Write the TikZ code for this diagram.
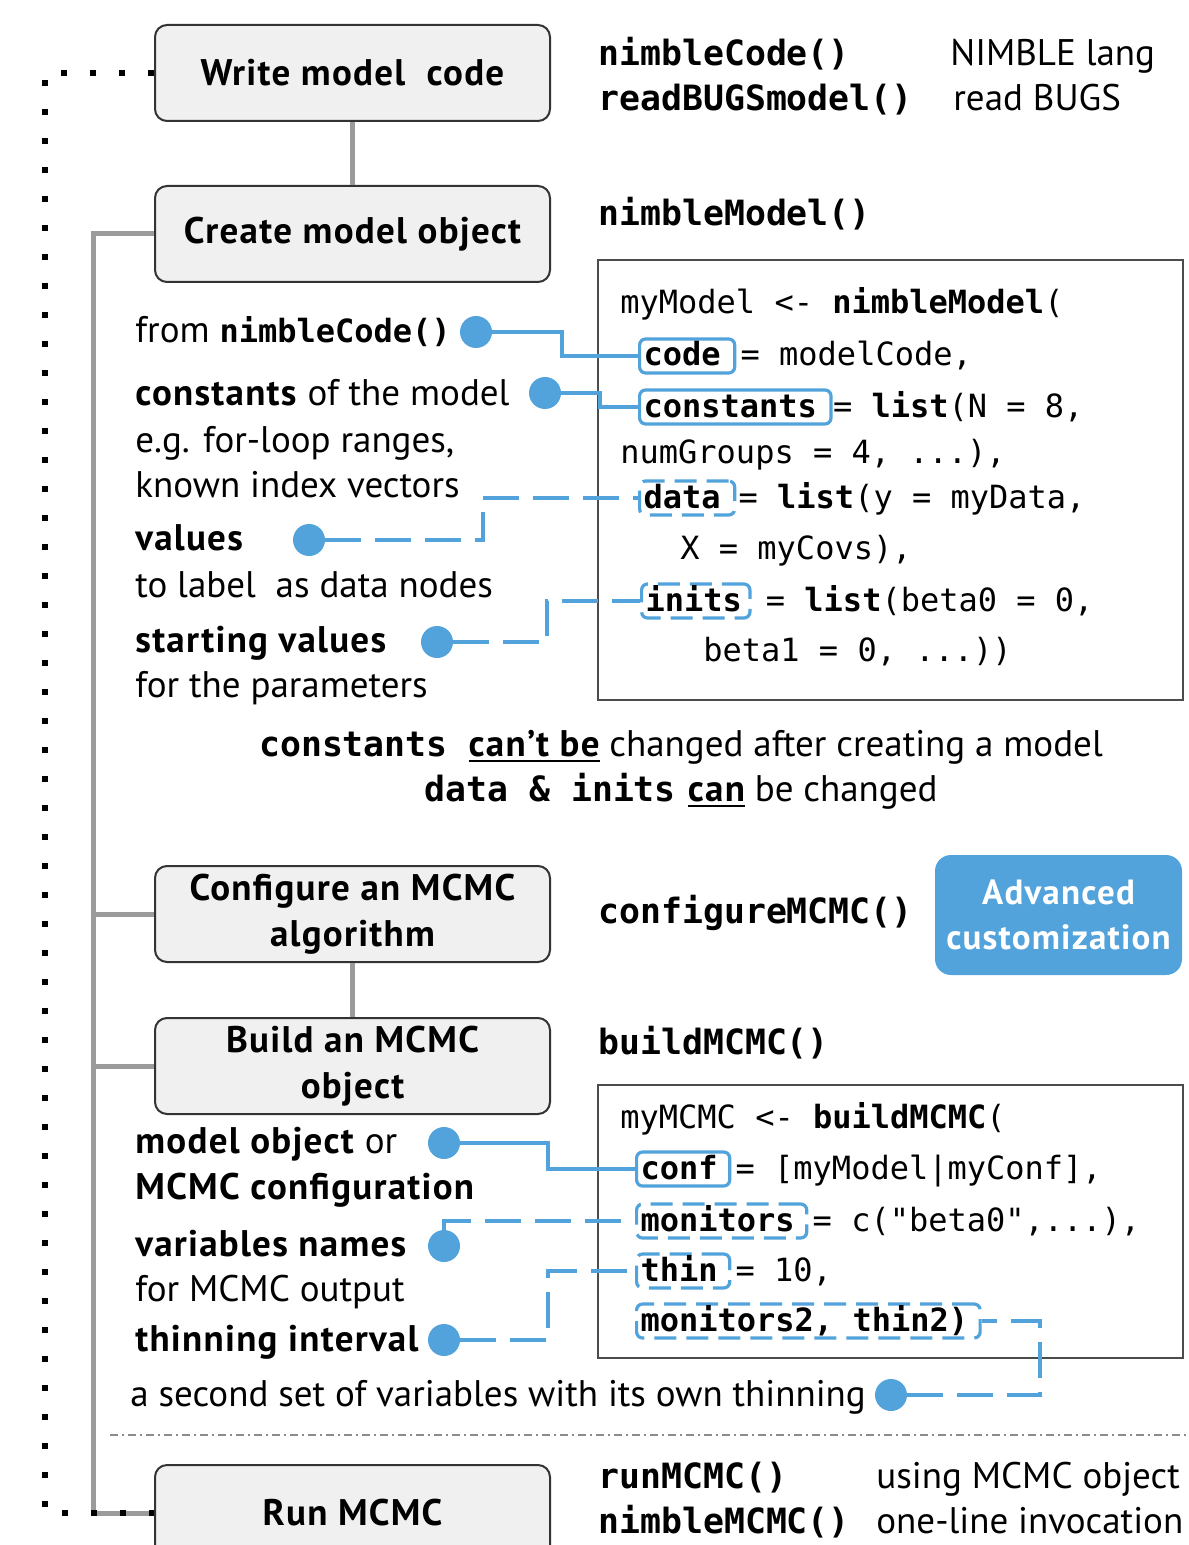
\documentclass[tikz,border=0pt]{standalone}
\usepackage{fontspec}
\setmainfont{PT Sans}[BoldFeatures={LetterSpace=3.4}]
\setmonofont{DejaVu Sans Mono}

\definecolor{nblue}{HTML}{52A3DB}
\definecolor{trunkgray}{HTML}{9B9B9B}
\definecolor{boxfill}{HTML}{F0F0F0}

% function names set in bold mono
\newcommand{\rcode}[1]{{\ttfamily\bfseries\fontsize{17.4}{21}\selectfont #1}}
\newcommand{\icode}[1]{{\ttfamily\bfseries\fontsize{16}{21}\selectfont #1}}
% thick underline
\newcommand{\ulbox}[1]{\setbox0=\hbox{#1}\rlap{\rule[-3.2pt]{\wd0}{1.4pt}}\box0\relax}

\begin{document}
\begin{tikzpicture}[x=0.5pt, y=-0.5pt,
    every node/.style={font=\fontsize{18.5}{23}\selectfont},
    stage/.style={draw=black!80, line width=1pt, fill=boxfill, rounded corners=6pt,
        minimum width=197.5pt, minimum height=48pt, align=center,
        font=\bfseries\fontsize{18.5}{23}\selectfont},
    trunk/.style={draw=trunkgray, line width=2.5pt},
    loopback/.style={draw=black, line width=3pt, dash pattern=on 3pt off 11.5pt},
    desc/.style={anchor=base west, inner sep=0pt},
    hdr/.style={anchor=base west, inner sep=0pt,
        font=\ttfamily\bfseries\fontsize{17.4}{21}\selectfont},
    codebox/.style={draw=black!70, line width=0.9pt, minimum width=292.5pt},
    codeline/.style={anchor=base west, inner sep=0pt,
        font=\ttfamily\fontsize{16}{20}\selectfont},
    kw/.style={draw=nblue, line width=1.6pt, rounded corners=3pt, anchor=base west,
        inner xsep=2pt, inner ysep=0pt, text height=13.5pt, text depth=3.5pt,
        font=\ttfamily\bfseries\fontsize{16}{20}\selectfont},
    kwd/.style={kw, dash pattern=on 11pt off 5pt},
    dot/.style={circle, fill=nblue, inner sep=0pt, minimum size=16pt},
    link/.style={draw=nblue, line width=1.7pt},
    linkd/.style={link, dash pattern=on 18pt off 7pt},
    adv/.style={fill=nblue, text=white, rounded corners=8pt, minimum width=123.5pt,
        minimum height=60pt, align=center, font=\bfseries\fontsize{17.5}{22.5}\selectfont},
    note/.style={anchor=base, inner sep=0pt},
    sepline/.style={draw=black!45, line width=0.7pt, dash pattern=on 4pt off 2pt on 1pt off 2pt}]

    \path[use as bounding box] (0,0) rectangle (1188,1545);
    \clip (0,0) rectangle (1188,1545);

    % stages
    \node[stage] (write) at (352.5,73) {Write model~ code};
    \node[stage] (create) at (352.5,234) {Create model object};
    \node[stage] (config) at (352.5,914) {Configure an MCMC\\algorithm};
    \node[stage] (build) at (352.5,1066) {Build an MCMC\\object};
    \node[stage] (run) at (352.5,1513) {Run MCMC};

    \coordinate (spine) at (93,0);
    \draw[trunk] (write) -- (create);
    \draw[trunk] (config) -- (build);
    \draw[trunk] (create.west) -| (spine |- run.west) -- (run.west);
    \draw[trunk] (config.west) -- (config.west -| spine);
    \draw[trunk] (build.west) -- (build.west -| spine);
    \draw[loopback] (write.west) -| (45,1513) -- (run.west);

    % function names
    \node[hdr] (hcode) at (598,66) {nimbleCode()};
    \node[desc] (hlang) at (950,66) {NIMBLE lang};
    \node[hdr] (hbugs) at (598,111) {readBUGSmodel()};
    \node[desc] (hread) at (953,111) {read BUGS};
    \node[hdr] (hmodel) at (598,226) {nimbleModel()};
    \node[hdr] (hconf) at (598,923) {configureMCMC()};
    \node[adv] (adv) at (1058.5,915) {Advanced\\customization};
    \node[hdr] (hbuild) at (598,1054) {buildMCMC()};
    \node[hdr] (hrun) at (598,1488) {runMCMC()};
    \node[desc] (hrunt) at (876,1488) {using MCMC object};
    \node[hdr] (hnmc) at (598,1533) {nimbleMCMC()};
    \node[desc] (hnmct) at (876,1533) {one-line invocation};

    % nimbleModel call
    \node[codebox, minimum height=220pt] (mbox) at (890.5,480) {};
    \node[codeline] (m1) at (620,314) {myModel <- \textbf{nimbleModel}(};
    \node[kw] (kcode) at (638,366) {code\kern5pt};
    \node[codeline] (m2) at (kcode.base east) {\kern2pt= modelCode,};
    \node[kw] (kconst) at (638,417) {constants\kern5pt};
    \node[codeline] (m3) at (kconst.base east) {\kern0pt= \textbf{list}(N = 8,};
    \node[codeline] (m4) at (620,463) {numGroups = 4, ...),};
    \node[kwd] (kdata) at (638,508) {data\kern5pt};
    \node[codeline] (m5) at (kdata.base east) {\kern1pt= \textbf{list}(y = myData,};
    \node[codeline] (m6) at (680,559) {X = myCovs),};
    \node[kwd] (kinits) at (640,611) {inits\kern2pt};
    \node[codeline] (m7) at (kinits.base east) {\kern7pt= \textbf{list}(beta0 = 0,};
    \node[codeline] (m8) at (703,661) {beta1 = 0, ...))};

    \node[desc] (t1) at (135,343) {from \icode{nimbleCode()}};
    \node[desc] (t2) at (135,406) {\textbf{constants} of the model};
    \node[desc] (t3) at (135,452) {e.g. for-loop ranges,};
    \node[desc] (t4) at (135,497) {known index vectors};
    \node[desc] (t5) at (135,550) {\textbf{values}};
    \node[desc] (t6) at (135,597) {to label~ as data nodes};
    \node[desc] (t7) at (135,652) {\textbf{starting values}};
    \node[desc] (t8) at (135,697) {for the parameters};

    \node[dot] (dcode) at (476,332) {};
    \node[dot] (dconst) at (545,393) {};
    \node[dot] (dvals) at (309,540) {};
    \node[dot] (dinits) at (437,642) {};
    \draw[link] (dcode) -- ++(86,0) |- (kcode);
    \draw[link] (dconst) -- ++(55,0) |- (kconst);
    \draw[linkd] (dvals) -- ++(174,0) |- (kdata);
    \draw[linkd] (dinits) -- ++(110,0) |- (kinits);

    \node[note] (n1) at (681,756) {\rcode{constants }\ulbox{\bfseries can’t be} changed after creating a model};
    \node[note] (n2) at (681,801) {\rcode{data \& inits}\kern6pt\ulbox{\bfseries can} be changed};

    % buildMCMC call
    \node[codebox, minimum height=136.5pt] (bbox) at (890.5,1221.5) {};
    \node[codeline] (b1) at (620,1128) {myMCMC <- \textbf{buildMCMC}(};
    \node[kw] (kconf) at (635,1179) {conf\kern4pt};
    \node[codeline] (b2) at (kconf.base east) {\kern2pt= [myModel|myConf],};
    \node[kwd] (kmon) at (635,1231) {monitors\kern4pt};
    \node[codeline] (b3) at (kmon.base east) {\kern2pt= c("beta0",...),};
    \node[kwd] (kthin) at (635,1281) {thin\kern4pt};
    \node[codeline] (b4) at (kthin.base east) {\kern2pt= 10,};
    \node[kwd] (kmon2) at (635,1331) {monitors2, thin2)\kern4pt};

    \node[desc] (s1) at (135,1153) {\textbf{model object} or};
    \node[desc] (s2) at (135,1199) {\textbf{MCMC configuration}};
    \node[desc] (s3) at (135,1256) {\textbf{variables names}};
    \node[desc] (s4) at (135,1301) {for MCMC output};
    \node[desc] (s5) at (135,1351) {\textbf{thinning interval}};
    \node[desc] (s6) at (130,1406) {a second set of variables with its own thinning};

    \node[dot] (dconf) at (444,1143) {};
    \node[dot] (dmon) at (444,1246) {};
    \node[dot] (dthin) at (444,1340) {};
    \node[dot] (dmon2) at (891,1395) {};
    \draw[link] (dconf) -- ++(104,0) |- (kconf);
    \draw[linkd] (dmon) |- (kmon);
    \draw[linkd] (dthin) -- ++(104,0) |- (kthin);
    \draw[linkd] (dmon2) -- ++(149,0) |- (kmon2);

    \coordinate (sepL) at (110,1435);
    \coordinate (sepR) at (1188,1435);
    \draw[sepline] (sepL) -- (sepR);
\end{tikzpicture}
\end{document}
